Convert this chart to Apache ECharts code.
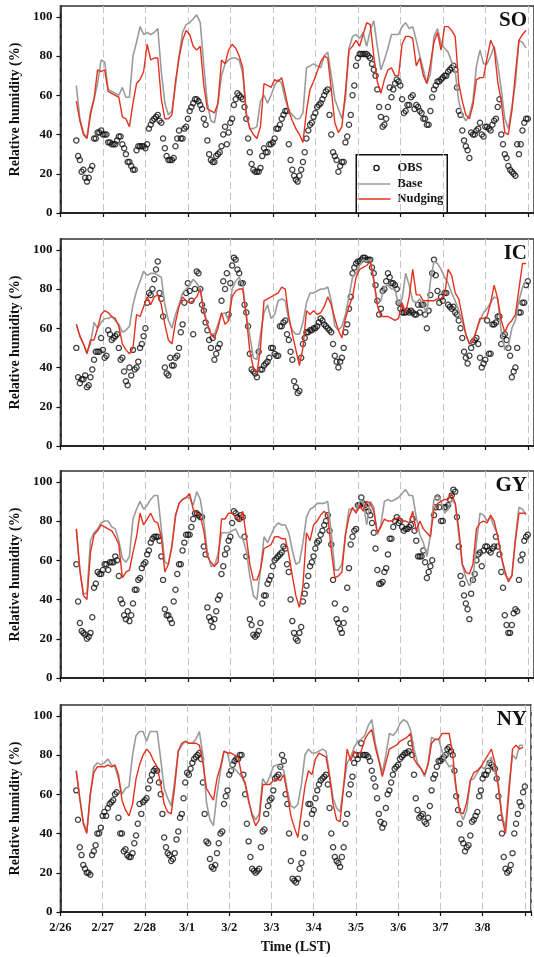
<!DOCTYPE html>
<html>
<head>
<meta charset="utf-8">
<script src="https://cdn.jsdelivr.net/npm/echarts@6/dist/echarts.min.js"></script>
<style>
  html, body { margin: 0; padding: 0; background: #fff; }
  #chart { width: 534px; height: 957px; }
</style>
</head>
<body>
<div id="chart"></div>
<script>
// Day tick labels on the time axis (hours counted from 2/26 00 LST)
const dayLabels = ['2/26', '2/27', '2/28', '3/1', '3/2', '3/3', '3/4', '3/5', '3/6', '3/7', '3/8'];
const yTicks = [0, 20, 40, 60, 80, 100];
// Model output every 2 h from 2/26 09 LST; observations hourly (odd hours from 09, even hours from 10)
const oddStart = 9;
const evenStart = 10;
const stepHour = 2;

const stations = ['SO', 'IC', 'GY', 'NY'];

// ---- SO ----
const soObsOdd = [37,27,22,16,22,38,41,42,40,36,35,35,39,35,30,26,22,32,34,34,35,45,48,50,46,33,27,27,34,42,38,44,
  52,56,58,55,48,37,27,26,30,34,44,41,
  48,58,60,58,48,31,22,21,23,33,31,35,
  38,43,48,52,35,22,17,19,26,38,45,49,
  54,56,60,63,40,29,21,26,36,45,60,75,
  81,81,81,79,73,63,49,45,54,59,66,67,
  58,52,55,60,55,52,48,45,52,63,67,68,
  70,72,74,73,52,42,34,28,40,42,46,39,
  44,42,47,54,40,30,24,21,19,30,42,48];
const soObsEven = [29,21,18,18,24,38,41,40,40,36,35,37,39,33,26,24,22,34,34,33,43,47,49,47,38,29,27,28,38,38,43,
  48,54,58,57,53,45,30,26,29,31,40,35,
  46,55,61,59,54,38,25,21,21,29,31,35,
  36,43,45,50,52,27,19,16,22,31,42,46,
  51,55,58,62,50,31,27,24,26,39,50,65,
  79,81,81,80,76,70,54,44,48,64,63,68,
  65,51,55,59,53,54,51,48,45,59,65,67,
  69,70,73,75,64,50,37,32,41,40,43,40,
  44,43,45,48,58,35,28,22,20,35,35,46,48];
const soBase = [65,48,41,38,52,58,66,78,77,63,62,61,60,64,59,59,80,87,95,91,92,91,92,94,72,56,50,52,65,80,92,96,
  97,99,101,97,75,56,47,46,56,70,76,78,
  79,79,78,71,51,43,43,44,57,60,56,60,
  65,68,66,58,52,50,48,48,51,74,75,76,
  75,74,80,82,70,58,53,48,58,84,90,91,
  89,92,85,93,98,85,73,78,84,91,91,91,
  95,97,94,95,88,80,73,66,71,90,94,86,
  84,82,77,72,57,50,47,50,57,75,83,76,
  76,80,85,76,63,48,43,54,66,88,87,84];
const soNudging = [57,47,40,38,50,58,73,72,73,62,61,60,59,49,48,44,56,66,68,72,86,78,79,79,58,48,48,50,67,79,88,93,
  91,85,83,85,65,53,52,51,56,78,76,83,
  86,84,80,74,50,43,40,38,44,66,65,64,
  68,67,69,61,52,47,43,40,36,52,63,67,
  72,77,80,79,63,46,41,44,62,83,85,88,
  85,91,97,96,80,67,61,68,73,74,70,70,
  86,90,90,89,75,79,70,66,76,87,92,83,
  95,95,93,90,66,57,50,48,55,68,69,69,
  79,88,84,67,57,41,40,52,71,88,91,93];

// ---- IC ----
const icObsOdd = [50,32,34,30,35,44,48,55,45,59,54,56,50,45,33,40,49,40,50,56,73,77,85,94,75,40,36,41,45,50,62,78,
  79,57,89,80,69,59,50,44,50,74,80,67,
  92,95,88,83,68,47,38,35,39,41,43,50,
  47,46,61,64,54,44,30,28,52,58,59,60,
  61,65,62,60,58,46,40,45,58,70,88,93,
  94,96,95,95,88,74,70,80,88,83,82,73,
  68,68,68,68,67,68,72,60,77,95,79,76,
  78,72,70,68,64,55,45,46,53,55,45,42,
  64,47,62,66,52,57,50,35,40,68,73,82];
const icObsEven = [35,34,36,31,39,48,48,49,46,57,55,57,44,38,31,36,39,43,52,60,78,80,90,78,66,37,45,41,46,58,73,
  83,74,80,88,72,63,54,55,47,52,84,88,
  83,96,90,83,72,61,39,37,48,39,42,45,
  50,46,61,63,57,48,33,27,45,55,58,59,
  60,63,64,61,59,52,43,43,50,62,76,91,
  94,95,96,95,91,82,67,79,84,86,83,80,
  70,68,69,69,67,72,72,67,69,88,87,73,
  74,78,71,71,67,60,48,42,50,54,52,40,
  44,47,62,63,66,56,54,46,38,50,68,73,84];
const icBase = [62,56,52,48,52,63,60,63,65,65,66,64,62,58,59,61,72,79,84,89,87,88,88,87,86,72,64,60,67,72,78,80,
  82,85,83,80,70,62,57,57,62,67,68,64,
  80,84,86,82,67,56,45,44,57,68,72,65,
  67,74,75,74,64,59,57,57,63,73,78,78,
  79,80,80,81,74,61,59,61,67,76,86,88,
  92,95,94,95,84,73,74,81,82,80,80,72,
  75,88,82,74,73,75,71,68,84,94,93,90,
  86,83,78,74,69,63,57,52,54,59,64,68,
  70,73,76,75,58,49,51,60,64,74,81,84];
const icNudging = [62,56,52,47,54,54,60,67,69,68,66,65,61,52,49,47,50,67,66,71,76,72,76,77,72,62,54,52,63,71,76,74,
  73,74,76,80,68,62,57,55,60,68,62,64,
  76,79,80,80,66,48,40,37,50,74,75,76,
  77,78,81,80,66,57,49,41,50,69,67,69,
  67,68,71,76,72,65,59,55,65,71,76,86,
  90,91,92,94,85,72,66,66,66,65,64,65,
  73,68,76,90,77,77,74,74,74,74,75,75,
  77,90,87,78,75,66,57,52,53,59,65,65,
  66,73,82,75,64,58,62,64,67,80,93,93];

// ---- GY ----
const gyObsOdd = [58,28,23,20,23,46,54,53,58,55,59,62,52,38,30,29,38,45,51,58,63,69,72,72,62,35,32,28,45,58,65,73,
  73,81,84,82,67,36,29,30,40,53,63,70,
  79,84,81,82,62,30,22,22,28,42,48,52,
  60,62,64,66,54,29,20,23,39,47,57,62,
  69,73,78,83,68,38,28,23,35,56,72,76,
  88,89,87,83,74,55,48,54,63,71,80,79,
  77,76,77,81,70,62,65,51,57,83,92,80,
  87,88,93,95,67,48,38,30,50,60,64,65,
  67,64,67,67,54,32,23,27,35,50,63,72];
const gyObsEven = [39,24,22,21,31,48,53,55,58,59,59,60,40,32,34,32,45,50,56,59,65,71,72,70,50,32,30,39,53,58,69,
  73,77,84,83,82,63,31,26,34,42,57,66,
  72,85,82,83,72,null,27,21,24,38,42,50,
  57,61,63,67,58,40,23,19,26,43,52,59,
  66,70,75,80,75,50,30,25,28,46,68,75,
  88,92,88,85,79,66,48,49,56,71,77,82,
  80,75,76,78,75,62,62,59,54,60,87,87,
  80,87,91,96,82,52,42,35,43,53,63,57,
  67,65,66,72,63,46,27,23,33,34,60,70,73];
const gyBase = [76,55,43,43,70,74,76,79,80,80,77,76,70,61,59,62,81,86,90,86,88,91,93,93,76,59,58,68,82,89,91,92,
  92,88,95,91,80,64,57,57,63,74,74,74,
  75,76,72,71,65,52,42,40,55,72,69,73,
  77,79,78,78,74,65,58,59,69,82,86,87,
  89,89,89,90,74,55,55,58,73,86,86,85,
  90,90,78,90,87,73,78,90,91,90,91,92,
  94,96,93,93,82,73,69,62,73,91,93,90,
  84,86,91,89,73,58,51,47,50,69,84,83,
  80,82,77,73,62,53,50,52,71,87,86,83];
const gyNudging = [76,55,42,40,64,73,75,78,77,76,75,72,68,51,54,55,64,72,84,78,81,84,80,79,72,54,58,67,83,89,91,92,
  94,86,84,83,75,62,59,57,59,81,81,84,
  84,82,80,85,72,58,50,50,55,66,67,68,
  72,72,71,71,63,52,42,36,47,74,70,78,
  80,83,85,83,65,51,52,54,73,82,87,84,
  88,85,90,89,85,74,77,81,80,80,81,82,
  80,80,79,85,75,80,76,74,72,86,89,90,
  91,91,94,89,76,58,54,53,58,76,79,80,
  79,83,80,72,62,55,49,52,70,84,84,84];

// ---- NY ----
const nyObsOdd = [62,33,24,20,19,31,40,43,51,53,56,60,48,40,32,28,30,39,55,56,58,67,72,72,60,38,30,26,30,41,50,66,
  70,76,79,81,66,36,27,22,30,40,55,62,
  72,77,78,80,60,36,22,20,22,41,50,57,
  62,69,74,77,55,26,16,17,25,38,55,50,
  58,65,68,70,53,33,26,23,33,50,65,76,
  78,86,80,79,72,64,50,43,53,62,70,74,
  78,80,81,86,70,52,49,46,48,62,70,77,
  78,80,84,80,59,45,35,33,39,47,51,62,
  70,72,75,73,59,40,22,21,30,45,56,61];
const nyObsEven = [47,29,22,20,29,34,40,49,49,55,57,61,40,31,29,28,35,45,50,57,63,70,73,66,50,33,29,27,37,48,58,
  71,73,78,80,78,50,35,23,24,35,41,59,
  70,75,78,80,70,45,28,21,21,33,42,54,
  58,68,70,80,60,40,17,15,22,30,45,55,
  52,62,67,69,65,40,28,25,28,45,60,69,
  80,80,80,80,77,68,58,46,45,60,66,73,
  75,79,81,82,80,58,48,50,45,54,68,74,
  77,79,83,82,72,52,37,31,34,46,49,59,
  68,70,76,74,68,48,28,20,24,40,50,54,64];
const nyBase = [72,58,46,41,60,74,76,75,76,78,75,74,68,60,63,64,80,90,92,92,87,92,92,92,78,63,58,54,67,82,85,87,
  86,86,88,92,80,56,47,44,60,72,82,81,
  73,73,71,69,65,56,50,47,50,68,65,69,
  74,75,74,72,62,54,53,55,65,80,83,81,
  81,82,83,82,70,58,53,51,64,76,79,84,
  87,88,90,95,98,86,78,71,80,91,90,92,
  96,98,97,93,83,76,73,69,76,89,88,88,
  82,77,74,75,62,51,47,52,67,68,71,74,
  73,76,79,71,65,49,43,65,80,78,85,85];
const nyNudging = [72,58,45,40,60,71,74,74,74,75,74,75,70,57,52,49,55,68,75,80,83,81,77,74,65,55,51,50,64,82,86,87,
  86,86,86,85,76,63,60,57,68,74,82,81,
  81,80,79,70,66,57,49,44,47,65,65,65,
  67,68,67,70,60,49,43,38,51,64,72,70,
  78,81,80,79,69,55,47,46,64,83,77,82,
  80,82,88,91,93,84,77,69,76,83,84,85,
  87,88,89,91,78,75,73,70,75,86,88,88,
  91,91,91,80,63,51,50,56,67,71,72,74,
  77,80,83,76,63,48,40,61,83,85,83,84];

const obsOddByStation = [soObsOdd, icObsOdd, gyObsOdd, nyObsOdd];
const obsEvenByStation = [soObsEven, icObsEven, gyObsEven, nyObsEven];
const baseByStation = [soBase, icBase, gyBase, nyBase];
const nudgingByStation = [soNudging, icNudging, gyNudging, nyNudging];

const pairFrom = (arr, start) => arr.map((v, i) => [start + i * stepHour, v]);

const FONT = 'Liberation Serif, Times New Roman, serif';
const INK = '#111';
const BASE_COLOR = '#9b9b9b';
const NUDGING_COLOR = '#e5321f';
const panelTops = [6, 239, 471, 705];
const panelHeight = 207;

const grids = [], xAxes = [], yAxes = [], series = [], titles = [];

stations.forEach((st, i) => {
  const last = i === stations.length - 1;
  grids.push({
    left: 54, top: panelTops[i], width: 486, height: panelHeight,
    show: true, borderColor: '#333', borderWidth: 1.5, backgroundColor: 'transparent'
  });
  xAxes.push({
    type: 'value', gridIndex: i, min: 0, max: 267.5, interval: 24,
    axisLine: { show: true, onZero: false, lineStyle: { color: INK, width: 1.5 } },
    axisTick: { show: true, length: 4, lineStyle: { color: INK, width: 1.2 } },
    axisLabel: {
      show: last, margin: 9, color: INK, fontFamily: FONT, fontWeight: 'bold', fontSize: 12.5,
      formatter: v => (v % 24 === 0 && dayLabels[v / 24]) ? dayLabels[v / 24] : ''
    },
    splitLine: { show: true, lineStyle: { type: [7, 4], color: '#c4c4c4', width: 1 } },
    name: last ? 'Time (LST)' : '',
    nameLocation: 'middle', nameGap: 28,
    nameTextStyle: { color: INK, fontFamily: FONT, fontWeight: 'bold', fontSize: 14 }
  });
  yAxes.push({
    type: 'value', gridIndex: i, min: 0, max: 105.5, interval: 20,
    axisLine: { show: true, onZero: false, lineStyle: { color: INK, width: 1.5 } },
    axisTick: { show: true, length: 4, customValues: yTicks, lineStyle: { color: INK, width: 1.2 } },
    axisLabel: {
      margin: 8, color: INK, fontFamily: FONT, fontWeight: 'bold', fontSize: 13,
      customValues: yTicks,
      formatter: v => (v % 20 === 0 && v <= 100) ? String(v) : ''
    },
    splitLine: { show: false },
    name: 'Relative humidity (%)',
    nameLocation: 'middle', nameGap: 28, nameRotate: 90,
    nameTextStyle: { color: INK, fontFamily: FONT, fontWeight: 'bold', fontSize: 14 }
  });
  series.push({
    type: 'scatter', name: 'OBS', xAxisIndex: i, yAxisIndex: i,
    data: pairFrom(obsOddByStation[i], oddStart).concat(pairFrom(obsEvenByStation[i], evenStart)),
    symbol: 'circle', symbolSize: 5.2,
    itemStyle: { color: 'rgba(255,255,255,0)', borderColor: INK, borderWidth: 1.25 },
    z: 2
  });
  series.push({
    type: 'line', name: 'Base', xAxisIndex: i, yAxisIndex: i,
    data: pairFrom(baseByStation[i], oddStart),
    symbol: 'none', lineStyle: { color: BASE_COLOR, width: 1.6 }, z: 3
  });
  series.push({
    type: 'line', name: 'Nudging', xAxisIndex: i, yAxisIndex: i,
    data: pairFrom(nudgingByStation[i], oddStart),
    symbol: 'none', lineStyle: { color: NUDGING_COLOR, width: 1.4 }, z: 4
  });
  titles.push({
    text: st, right: 7, top: panelTops[i] + 4, padding: 0,
    textStyle: { color: INK, fontFamily: FONT, fontWeight: 'bold', fontSize: 21 }
  });
});

// Legend box inside the SO panel
const legendFont = 'bold 12.5px ' + FONT;
const legendGraphic = {
  type: 'group', left: 355, top: 154, z: 100,
  children: [
    { type: 'rect', shape: { x: 0.75, y: 0.75, width: 91, height: 58.5 },
      style: { fill: '#fff', stroke: INK, lineWidth: 1.5 } },
    { type: 'circle', shape: { cx: 21, cy: 14, r: 2.6 },
      style: { fill: 'transparent', stroke: INK, lineWidth: 1.25 } },
    { type: 'line', shape: { x1: 2, y1: 30, x2: 35, y2: 30 },
      style: { stroke: BASE_COLOR, lineWidth: 1.6 } },
    { type: 'line', shape: { x1: 2, y1: 45, x2: 35, y2: 45 },
      style: { stroke: NUDGING_COLOR, lineWidth: 1.4 } },
    { type: 'text', x: 42, y: 14, style: { text: 'OBS', font: legendFont, fill: INK, verticalAlign: 'middle' } },
    { type: 'text', x: 42, y: 30, style: { text: 'Base', font: legendFont, fill: INK, verticalAlign: 'middle' } },
    { type: 'text', x: 42, y: 45, style: { text: 'Nudging', font: legendFont, fill: INK, verticalAlign: 'middle' } }
  ]
};

const chart = echarts.init(document.getElementById('chart'), null, { renderer: 'canvas' });
chart.setOption({
  backgroundColor: '#fff',
  animation: false,
  title: titles,
  grid: grids,
  xAxis: xAxes,
  yAxis: yAxes,
  series: series,
  graphic: [legendGraphic]
});
</script>
</body>
</html>
